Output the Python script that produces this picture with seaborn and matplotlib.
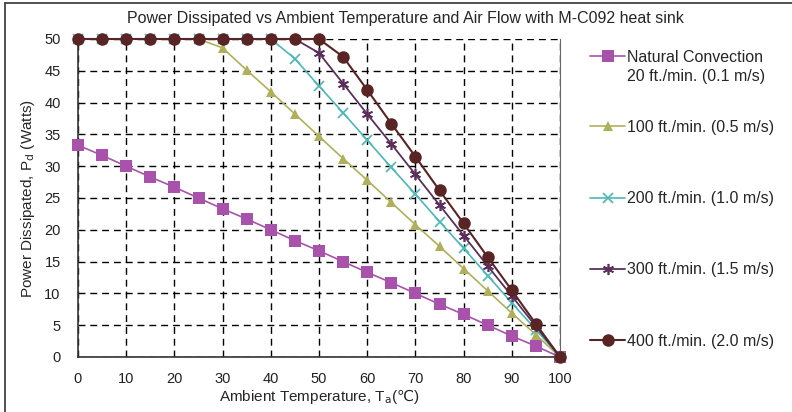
import numpy as np
import pandas as pd
import matplotlib
matplotlib.use("Agg")
import matplotlib.pyplot as plt
import seaborn as sns
from matplotlib.lines import Line2D

# ambient temperature, degC
temps = [0, 5, 10, 15, 20, 25, 30, 35, 40, 45, 50, 55, 60, 65, 70, 75, 80, 85, 90, 95, 100]

# power dissipated (W) per air flow
natural = [33.3, 31.7, 30.0, 28.3, 26.7, 25.0, 23.3, 21.7, 20.0, 18.3, 16.7,
           15.0, 13.3, 11.7, 10.0, 8.3, 6.7, 5.0, 3.3, 1.7, 0.0]
flow_100 = [50, 50, 50, 50, 50, 50, 48.6, 45.1, 41.7, 38.2, 34.7,
            31.2, 27.8, 24.3, 20.8, 17.4, 13.9, 10.4, 6.9, 3.5, 0.0]
flow_200 = [50, 50, 50, 50, 50, 50, 50, 50, 50, 46.9, 42.6,
            38.4, 34.1, 29.8, 25.6, 21.3, 17.1, 12.8, 8.5, 4.3, 0.0]
flow_300 = [50, 50, 50, 50, 50, 50, 50, 50, 50, 50, 47.8,
            43.0, 38.2, 33.5, 28.7, 23.9, 19.1, 14.3, 9.6, 4.8, 0.0]
flow_400 = [50, 50, 50, 50, 50, 50, 50, 50, 50, 50, 50,
            47.2, 42.0, 36.7, 31.5, 26.2, 21.0, 15.7, 10.5, 5.2, 0.0]

labels = ["Natural Convection\n20 ft./min. (0.1 m/s)",
          "100 ft./min. (0.5 m/s)",
          "200 ft./min. (1.0 m/s)",
          "300 ft./min. (1.5 m/s)",
          "400 ft./min. (2.0 m/s)"]

sns.set_style("white")
plt.rcParams['font.family'] = ['Liberation Sans', 'DejaVu Sans']
plt.rcParams['mathtext.fontset'] = 'dejavusans'

fig = plt.figure(figsize=(7.92, 4.12), dpi=100)
ax = fig.add_axes([78 / 792, 1 - 357 / 412, 482 / 792, 318 / 412])

series = [natural, flow_100, flow_200, flow_300, flow_400]
colors = ["#A852AC", "#B0B05A", "#4CB8B8", "#5B2E5C", "#5A2424"]
markers = ["s", "^", "x", (6, 2, 0), "o"]
msizes = [8.5, 7, 7, 8, 9]
mews = [0, 0, 1.2, 1.2, 0]
lws = [1.2, 1.2, 1.2, 1.3, 1.5]

for vals, col, mk, ms, mew, lw, lab in zip(series, colors, markers, msizes, mews, lws, labels):
    sns.lineplot(x=temps, y=vals, ax=ax, color=col, marker=mk, markersize=ms,
                 markeredgewidth=mew, markeredgecolor=col, lw=lw, label=lab,
                 legend=False, clip_on=False, zorder=3)

ax.set_xlim(0, 100)
ax.set_ylim(0, 50)
ax.set_xticks(np.arange(0, 101, 10))
ax.set_yticks(np.arange(0, 51, 5))
ax.grid(True, color="black", linestyle=(0, (5, 3.5)), lw=1)
ax.tick_params(direction="inout", length=7, width=1, labelsize=10.5,
               colors="#222222")
ax.tick_params(axis="y", pad=9)
ax.tick_params(axis="x", pad=7)
for s in ["left", "bottom"]:
    ax.spines[s].set_color("#333333")
    ax.spines[s].set_linewidth(1.2)
ax.spines["right"].set_color("#666666")
ax.spines["top"].set_visible(False)

ax.set_xlabel(r"Ambient Temperature, T$_\mathrm{a}$($\mathrm{℃}$)", fontsize=11, labelpad=1)
ax.set_ylabel(r"Power Dissipated, P$_\mathrm{d}$ (Watts)", fontsize=11, labelpad=5)
fig.text(405 / 792, 1 - 18 / 412,
         "Power Dissipated vs Ambient Temperature and Air Flow with M-C092 heat sink",
         fontsize=11.5, ha="center", va="center")

handles, labs = ax.get_legend_handles_labels()
leg_kw = dict(loc="upper left", frameon=False, fontsize=11.5, handlelength=2.2,
              handletextpad=0.1, borderpad=0, borderaxespad=0)

# first entry: handle sits on the first text line, second line underneath
first_line, second_line = labs[0].split("\n")
leg1 = fig.legend(handles[:1], [first_line], bbox_to_anchor=(590 / 792, 1 - 50 / 412), **leg_kw)
leg2 = fig.legend(handles[1:], labs[1:], bbox_to_anchor=(590 / 792, 1 - 120 / 412),
                  labelspacing=3.52, **leg_kw)

fig.canvas.draw()
bb = leg1.get_texts()[0].get_window_extent()
fig.text(bb.x0 / fig.bbox.width, (bb.y0 - 4) / fig.bbox.height, second_line,
         fontsize=11.5, ha="left", va="top")

# outer frame of the chart area
fig.add_artist(Line2D([5 / 792, 5 / 792], [0, 1 - 3 / 412], transform=fig.transFigure,
                      color="#333333", lw=1.2))
fig.add_artist(Line2D([5 / 792, 1], [1 - 3 / 412, 1 - 3 / 412], transform=fig.transFigure,
                      color="#333333", lw=1.2))

fig.savefig("out.png", dpi=100)
